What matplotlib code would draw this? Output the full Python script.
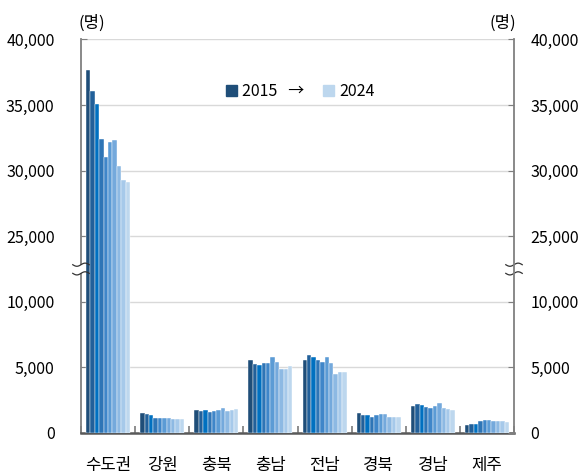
import matplotlib
matplotlib.use('Agg')
import matplotlib.pyplot as plt
from matplotlib.patches import Patch, Rectangle
import numpy as np

plt.rcParams['font.family'] = ['Noto Sans CJK KR', 'DejaVu Sans']
plt.rcParams['font.size'] = 11.5

regions = ['수도권', '강원', '충북', '충남', '전남', '경북', '경남', '제주']
years = list(range(2015, 2025))
# rows = regions, columns = 2015..2024
values = [
    [37650, 36100, 35050, 32400, 31050, 32150, 32300, 30350, 29300, 29150],  # 수도권
    [1510, 1430, 1360, 1180, 1110, 1180, 1180, 1060, 1060, 1060],            # 강원
    [1730, 1660, 1730, 1630, 1710, 1780, 1930, 1710, 1780, 1860],            # 충북
    [5560, 5280, 5180, 5330, 5300, 5830, 5450, 4900, 4900, 5100],            # 충남
    [5560, 5910, 5830, 5530, 5430, 5830, 5330, 4470, 4680, 4680],            # 전남
    [1530, 1380, 1380, 1210, 1380, 1460, 1460, 1210, 1210, 1210],            # 경북
    [2090, 2190, 2110, 2010, 1940, 2090, 2260, 1890, 1810, 1730],            # 경남
    [630, 700, 700, 880, 1000, 1000, 950, 880, 900, 850],                    # 제주
]
colors = ['#1F4E79', '#22609A', '#0070C0', '#2E75B6', '#3F86C9',
          '#5B9BD5', '#74A9DC', '#8DB9E3', '#A6C9EA', '#BDD7EE']
yticks = [0, 5000, 10000, 25000, 30000, 35000, 40000]


def fwd(v):
    v = np.asarray(v, float)
    return np.where(v <= 10000, v, np.where(v >= 25000, v - 10000, 10000 + (v - 10000) / 3))


def inv(z):
    z = np.asarray(z, float)
    return np.where(z <= 10000, z, np.where(z >= 15000, z + 10000, 10000 + (z - 10000) * 3))


fig = plt.figure(figsize=(5.81, 4.74), dpi=100)
ax = fig.add_axes([0.1394, 0.0865, 0.7453, 0.8302])
ax2 = ax.twinx()

bw = 0.0813
for j, yr in enumerate(years):
    xs = np.arange(len(regions)) + 0.5 + (j - 4.5) * bw
    ax.bar(xs, [row[j] for row in values], width=bw, color=colors[j],
           edgecolor='white', linewidth=0.3, zorder=3)

for a in (ax, ax2):
    a.set_yscale('function', functions=(fwd, inv))
    a.set_ylim(0, 40000)
    a.set_yticks(yticks)
    a.set_yticklabels([f'{t:,}' for t in yticks])
    a.spines['top'].set_visible(False)
    a.tick_params(axis='y', direction='in', length=4, color='#7f7f7f', labelsize=11.5)

ax.set_xlim(0, len(regions))
ax.grid(axis='y', color='#d9d9d9', linewidth=1, zorder=0)
ax.set_axisbelow(True)
ax.set_xticks(np.arange(len(regions)) + 0.5)
ax.set_xticklabels(regions, fontsize=12)
ax.set_xticks(np.arange(len(regions) + 1), minor=True)
ax.tick_params(axis='x', which='major', length=0, pad=17)
ax.tick_params(axis='x', which='minor', direction='in', length=5, color='#6f6f6f', width=1.1)
ax.tick_params(axis='y', pad=19)
ax2.tick_params(axis='y', pad=12)

ax.spines['left'].set_color('#808080')
ax.spines['left'].set_linewidth(1.3)
ax.spines['right'].set_visible(False)
ax.spines['bottom'].set_color('#595959')
ax.spines['bottom'].set_linewidth(1.8)
ax2.spines['left'].set_visible(False)
ax2.spines['bottom'].set_visible(False)
ax2.spines['right'].set_color('#808080')
ax2.spines['right'].set_linewidth(1.3)

# axis break marks
yb = float(fwd(17500) / fwd(40000))
for xc in (0.0, 1.0):
    ax.add_patch(Rectangle((xc - 0.006, yb - 0.011), 0.012, 0.022, transform=ax.transAxes,
                           facecolor='white', edgecolor='none', clip_on=False, zorder=5))
    t = np.linspace(-1, 1, 30)
    for dy in (-0.011, 0.011):
        ax.plot(xc + 0.019 * t, yb + dy + 0.004 * np.sin(np.pi * t), transform=ax.transAxes,
                color='#333333', linewidth=0.9, clip_on=False, zorder=6)

ax.text(0.025, 1.02, '(명)', transform=ax.transAxes, ha='center', va='bottom', fontsize=12)
ax.text(0.975, 1.02, '(명)', transform=ax.transAxes, ha='center', va='bottom', fontsize=12)

handles = [Patch(color=colors[0]), Patch(color=colors[-1])]
ax.legend(handles, ['2015   →', '2024'], loc='center', bbox_to_anchor=(0.506, 0.867),
          ncol=2, frameon=False, handlelength=0.7, handleheight=0.7, handletextpad=0.3,
          columnspacing=1.2, fontsize=11.5)

fig.savefig('out.png', dpi=100)
